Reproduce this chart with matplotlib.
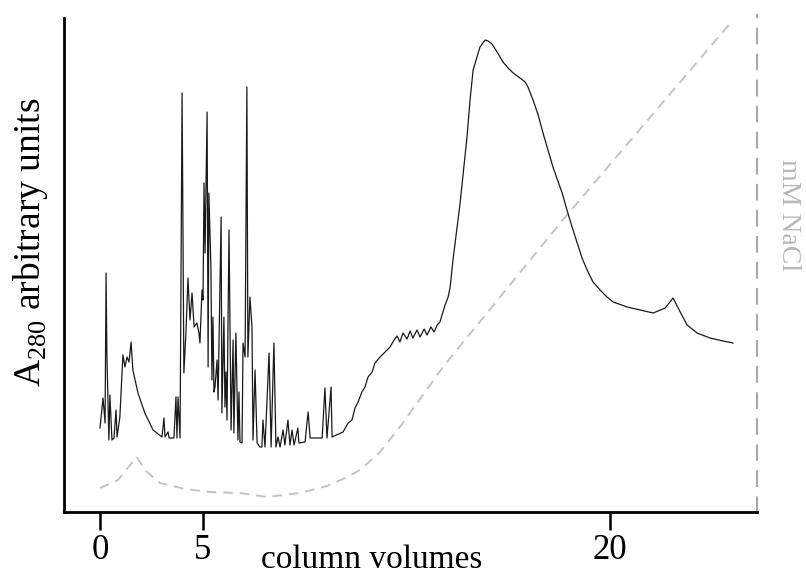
import matplotlib.pyplot as plt

plt.rcParams['font.family'] = ['Liberation Serif', 'DejaVu Serif']
plt.rcParams['mathtext.fontset'] = 'custom'
plt.rcParams['mathtext.rm'] = 'Liberation Serif'

# A280 trace (column volumes, arbitrary units)
a280_cv = [0.00, 0.12, 0.20, 0.24, 0.27, 0.31, 0.35, 0.39, 0.47, 0.55, 0.63, 0.67,
           0.78, 0.90, 0.98, 1.06, 1.14, 1.22, 1.29, 1.49, 1.76, 2.08, 2.43, 2.51,
           2.55, 2.67, 2.71, 2.90, 2.98, 3.02, 3.06, 3.14, 3.22, 3.29, 3.37, 3.45,
           3.53, 3.61, 3.69, 3.80, 3.88, 3.92, 4.00, 4.04, 4.08, 4.12, 4.20, 4.24,
           4.27, 4.35, 4.39, 4.43, 4.47, 4.51, 4.59, 4.63, 4.75, 4.78, 4.86, 4.90,
           4.94, 4.98, 5.06, 5.14, 5.22, 5.25, 5.33, 5.41, 5.45, 5.49, 5.57, 5.61,
           5.69, 5.76, 5.80, 5.88, 5.96, 6.00, 6.08, 6.16, 6.27, 6.35, 6.39, 6.47,
           6.63, 6.71, 6.82, 6.90, 6.98, 7.06, 7.18, 7.25, 7.37, 7.45, 7.53, 7.61,
           7.76, 7.80, 8.04, 8.16, 8.24, 8.71, 8.82, 8.90, 9.06, 9.10, 9.53, 9.73,
           9.88, 10.00, 10.12, 10.27, 10.39, 10.51, 10.67, 10.78, 10.98, 11.18,
           11.37, 11.53, 11.65, 11.76, 11.88, 12.04, 12.16, 12.27, 12.43, 12.55,
           12.71, 12.82, 12.98, 13.10, 13.22, 13.33, 13.53, 13.65, 13.73, 13.84,
           14.12, 14.39, 14.51, 14.63, 14.78, 14.90, 15.10, 15.22, 15.37, 15.57,
           15.80, 16.00, 16.20, 16.47, 16.67, 16.78, 16.98, 17.18, 17.37, 17.76,
           18.12, 18.31, 18.51, 18.71, 18.90, 19.10, 19.33, 19.61, 19.88, 20.12,
           20.67, 21.18, 21.69, 22.16, 22.47, 22.75, 23.02, 23.41, 23.92, 24.43,
           24.82]
a280 = [0.84, 1.14, 0.89, 2.39, 1.59, 1.15, 0.72, 1.17, 0.72, 0.74, 1.02, 0.75,
        0.95, 1.57, 1.45, 1.55, 1.50, 1.70, 1.42, 1.19, 0.99, 0.82, 0.75, 0.94,
        0.75, 0.80, 0.74, 0.74, 1.15, 0.74, 1.15, 0.74, 4.19, 1.39, 1.79, 2.34,
        1.92, 2.19, 1.85, 1.89, 1.79, 1.69, 2.22, 2.12, 3.29, 2.59, 4.00, 1.45,
        3.19, 2.45, 1.32, 1.95, 1.20, 1.25, 1.52, 1.12, 2.95, 0.99, 1.95, 1.05,
        1.40, 0.92, 2.82, 0.82, 1.72, 0.79, 1.79, 0.72, 1.20, 0.70, 0.69, 1.69,
        1.55, 4.25, 1.55, 2.15, 1.85, 0.72, 1.42, 0.69, 0.65, 0.65, 0.92, 0.65,
        1.59, 0.65, 1.69, 0.65, 0.75, 0.65, 0.82, 0.67, 0.92, 0.67, 0.82, 0.67,
        0.84, 0.69, 0.70, 1.00, 0.74, 0.74, 1.24, 0.74, 1.25, 0.75, 0.80, 0.89,
        0.92, 1.04, 1.10, 1.20, 1.25, 1.35, 1.40, 1.49, 1.55, 1.60,
        1.65, 1.72, 1.76, 1.70, 1.79, 1.73, 1.81, 1.74, 1.82, 1.75,
        1.83, 1.77, 1.85, 1.80, 1.87, 1.90, 2.07, 2.15, 2.25, 2.52,
        3.09, 3.75, 4.12, 4.42, 4.55, 4.65, 4.72, 4.71, 4.68, 4.60,
        4.50, 4.44, 4.39, 4.34, 4.30, 4.25, 4.12, 3.97, 3.79, 3.45,
        3.19, 3.02, 2.85, 2.69, 2.54, 2.42, 2.30, 2.22, 2.15, 2.10,
        2.05, 2.02, 1.99, 2.04, 2.14, 2.00, 1.87, 1.79, 1.74, 1.71,
        1.69]

# NaCl gradient (dashed grey)
nacl_cv = [0.00, 0.71, 1.18, 1.45, 1.76, 2.35, 3.33, 4.31, 5.49, 6.55, 7.84, 8.90,
           9.61, 10.20, 10.98, 11.76, 13.45, 18.24, 24.82]
nacl = [0.24, 0.32, 0.47, 0.55, 0.42, 0.29, 0.23, 0.20, 0.19, 0.15, 0.19, 0.26,
        0.34, 0.42, 0.60, 0.85, 1.45, 2.95, 4.92]

tick_pos = [0, 4.04, 20]
tick_labels = ['0', '5', '20']

fig = plt.figure(figsize=(8.06, 5.74), dpi=100)
ax = fig.add_axes([64 / 806, 1 - 512 / 574, (757 - 64) / 806, (512 - 15) / 574])

ax.plot(nacl_cv, nacl, color='#c4c4c4', lw=1.4, linestyle=(0, (5, 3.5)))
ax.plot(a280_cv, a280, color='#1a1a1a', lw=0.9)

ax.set_xlim(-1.41, 25.76)
ax.set_ylim(0, 4.97)
ax.set_yticks([])
ax.set_xticks(tick_pos)
ax.set_xticklabels(tick_labels, fontsize=25)
ax.tick_params(axis='x', length=13, width=1.8, pad=3, color='black')

ax.spines['top'].set_visible(False)
ax.spines['left'].set_linewidth(2)
ax.spines['bottom'].set_linewidth(2)
ax.spines['left'].set_bounds(0, 4.94)
ax.spines['right'].set_color('#a8a8a8')
ax.spines['right'].set_linewidth(1.5)
ax.spines['right'].set_linestyle((0, (7, 5.5)))

fig.text(372 / 806, 1 - 545 / 574, 'column volumes', fontsize=24, ha='center', va='top')
fig.text(31 / 806, 1 - 242 / 574, r'A$_{\mathrm{280}}$ arbitrary units', fontsize=27,
         rotation=90, ha='center', va='center')
fig.text(789 / 806, 1 - 215 / 574, 'mM NaCl', fontsize=20, color='#b8b8b8',
         rotation=270, ha='center', va='center')

fig.savefig('out.png', dpi=100)
